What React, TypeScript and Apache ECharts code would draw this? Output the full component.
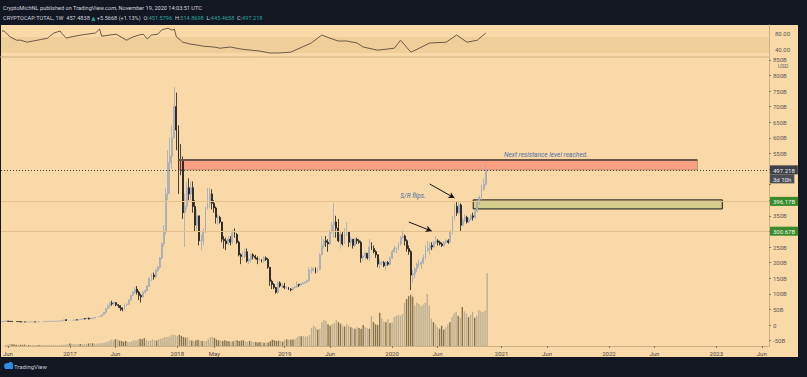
import React, { useEffect, useRef } from 'react';
import * as echarts from 'echarts';

// ---------- data ----------
const FIRST_WEEK_UTC = Date.UTC(2016, 4, 30); // Monday 2016-05-30
const AXIS_WEEKS = 370;
const FIRST_OPEN = 10.5;

// weekly closes (B USD) from 2016-05-30 to 2020-11-16
const closes = [
  11.0, 12.0, 12.8, 11.8, 11.5, 10.8, 11.2, 11.1, 10.8, 9.8, 9.9, 9.7, 9.7, 9.9, 10.0, 10.0, 9.9, 10.0, 10.2, 10.3, 10.4, 11.3, 11.4, 11.6, 11.9, 11.9, 12.3, 12.5, 13.0, 14.0, 16.5,
  14.8, 14.9, 15.5, 15.5, 16.5, 16.4, 17.0, 18.7, 20.5, 19.8, 22.0, 19.5, 21.5, 22.5, 24.5, 26.5, 28,
  33, 40, 52, 60, 70, 68, 72, 65, 62, 55, 50, 65, 66,
  80, 95, 105, 115, 105, 95, 90, 105, 110, 125, 150, 160, 155, 175, 185, 215, 260, 300, 420, 520, 540, 600,
  700, 625, 530, 525, 360, 380, 440, 420, 440, 380, 320, 350, 270, 270, 300, 375, 390, 420, 390, 375, 345, 345, 330, 275, 270, 260, 275, 265, 295, 290, 265, 225, 220, 220, 235, 205, 210, 225, 220, 215, 210, 210, 205, 215, 210, 185, 140, 130, 120, 105, 135, 125,
  125, 120, 120, 115, 113, 120, 122, 130, 128, 132, 135, 137, 142, 175, 175, 180, 170, 178, 225, 255, 270, 265, 260, 300, 320, 330, 310, 270, 290, 260, 300, 300, 265, 275, 255, 275, 270, 265, 215, 220, 230, 215, 250, 245, 235, 225, 195, 200, 200, 190, 200, 195,
  215, 235, 245, 245, 260, 280, 285, 270, 245, 235, 160, 165, 180, 195, 195, 200, 215, 240, 245, 255, 250, 265, 270, 265, 260, 255, 265, 270, 265,
  300, 345, 380, 360, 385, 320, 335, 345, 330, 340, 350, 345, 365, 395, 410, 435, 451.5796, 497.218,
];
const highs = [
  11.3, 12.3, 14.8, 13.2, 11.9, 11.8, 11.4, 11.6, 11.3, 10.8, 10.1, 9.9, 9.9, 10.3, 10.2, 10.1, 10.1, 10.1, 10.3, 10.5, 10.5, 11.6, 11.8, 11.9, 12.1, 12.1, 12.5, 12.6, 13.1, 14.4, 17.7,
  18.5, 15.5, 15.9, 15.8, 16.8, 16.9, 17.2, 19.0, 21.0, 21.5, 24.5, 23.0, 22.0, 23.0, 25.0, 27.5, 29,
  34, 42, 55, 66, 75, 78, 76, 73, 66, 63, 56, 67, 70,
  82, 98, 110, 122, 125, 110, 100, 108, 115, 128, 152, 165, 168, 180, 190, 218, 265, 320, 440, 560, 600, 640,
  763, 745, 640, 580, 540, 420, 460, 470, 460, 460, 400, 370, 350, 290, 310, 380, 440, 440, 435, 400, 380, 355, 350, 330, 285, 280, 285, 285, 305, 310, 295, 270, 230, 235, 245, 245, 215, 230, 230, 225, 220, 215, 210, 220, 220, 215, 185, 145, 135, 122, 140, 140,
  135, 135, 125, 122, 118, 122, 125, 140, 132, 135, 138, 140, 145, 185, 185, 185, 185, 182, 230, 285, 275, 285, 275, 305, 330, 391, 350, 340, 300, 300, 310, 330, 300, 285, 275, 280, 280, 275, 270, 225, 235, 230, 275, 265, 255, 240, 225, 210, 205, 205, 205, 205,
  220, 240, 255, 250, 265, 285, 305, 290, 275, 255, 240, 175, 185, 200, 210, 205, 225, 255, 270, 265, 265, 270, 285, 275, 270, 265, 270, 275, 275,
  305, 350, 390, 395, 395, 390, 345, 355, 350, 345, 355, 360, 370, 400, 415, 450, 470, 514.8698,
];
const lows = [
  10.2, 10.9, 11.8, 10.0, 10.9, 10.3, 10.6, 10.8, 10.3, 8.6, 9.6, 9.5, 9.5, 9.6, 9.8, 9.8, 9.8, 9.9, 9.9, 10.1, 10.2, 10.4, 11.0, 11.2, 11.5, 11.7, 11.8, 12.2, 12.4, 12.9, 14.0,
  13.0, 13.5, 14.6, 15.1, 15.4, 15.4, 16.2, 16.8, 18.5, 18.0, 19.5, 17.8, 19.0, 20.8, 22.5, 24.5, 26,
  27, 32, 39, 50, 55, 62, 63, 60, 55, 45, 44, 48, 60,
  65, 78, 92, 100, 98, 80, 72, 88, 100, 108, 122, 140, 145, 150, 170, 180, 210, 250, 290, 400, 420, 500,
  600, 560, 420, 480, 340, 250, 370, 400, 400, 360, 300, 300, 255, 240, 255, 295, 370, 375, 370, 360, 325, 320, 325, 265, 245, 240, 255, 255, 260, 280, 260, 220, 195, 210, 215, 200, 195, 200, 210, 210, 195, 205, 200, 200, 205, 180, 125, 115, 115, 100, 100, 120,
  118, 115, 115, 112, 108, 110, 118, 120, 122, 125, 130, 132, 135, 140, 165, 172, 165, 168, 175, 225, 245, 250, 235, 255, 295, 280, 280, 265, 245, 255, 260, 285, 250, 255, 245, 250, 260, 260, 200, 205, 210, 210, 205, 240, 230, 215, 185, 180, 190, 185, 175, 190,
  190, 212, 232, 230, 240, 255, 275, 255, 235, 225, 112, 135, 150, 170, 185, 180, 195, 210, 235, 225, 240, 245, 260, 255, 255, 250, 250, 260, 260,
  265, 290, 335, 350, 355, 300, 315, 330, 325, 325, 335, 335, 340, 360, 385, 400, 430, 445.4658,
];
// weekly volume (B USD)
const volumes = [
  18, 22, 30, 25, 20, 18, 17, 17, 16, 20, 15, 14, 14, 14, 13, 13, 13, 13, 13, 14, 14, 17, 17, 16, 16, 15, 16, 16, 17, 20, 25,
  35, 30, 25, 24, 25, 26, 25, 28, 30, 35, 40, 38, 32, 33, 36, 38, 42,
  50, 60, 70, 85, 80, 95, 90, 75, 70, 60, 70, 55, 55,
  65, 80, 75, 90, 100, 95, 110, 85, 70, 75, 90, 80, 75, 95, 100, 110, 120, 125,
  130, 150, 160, 150, 140, 155, 140, 125,
  115, 120, 85, 75, 70, 80, 85, 75, 70, 65, 70, 95, 120, 125, 110, 90, 80, 75, 70, 80, 70, 65, 60, 65, 75, 80, 70, 75, 80, 65, 60, 70, 60, 55, 55, 50, 55, 50, 45, 45, 50, 65, 85, 80, 70, 75, 70, 60,
  90, 95, 85, 85, 90, 95, 120, 140, 135, 140, 130, 135, 150, 250, 280, 260, 230, 240, 330, 360, 350, 300, 280, 300, 320, 360,
  330, 310, 280, 270, 300, 280, 260, 250, 240, 260, 250, 240, 290, 260, 250, 240, 415, 330, 300, 290, 460, 380, 340, 330, 370, 320,
  330, 400, 420, 430, 420, 440, 600, 650, 690, 710, 680, 560, 600, 580, 550, 570, 600, 720, 560,
  380, 330, 300, 260, 240, 280, 230, 260, 300, 330, 400, 450, 470, 420, 390, 540, 480, 450,
  400, 430, 470, 390, 420, 500, 480, 470, 490, 1010,
];
// RSI: week index -> value
const rsiWeekIdx = [0, 1, 4, 7, 9, 12, 15, 19, 22, 23, 25, 28, 29, 31, 33, 38, 41, 45, 47, 48, 52, 55, 60, 63, 66, 68, 70, 72, 75, 77, 80, 82, 83, 84, 86, 87, 91, 94, 97, 102, 105, 110, 115, 120, 124, 129, 133, 139, 149, 154, 158, 162, 166, 171, 174, 181, 189, 192, 197, 201, 206, 214, 219, 224, 229, 233];
const rsiValues = [85, 85, 70, 62, 62, 57, 60, 64, 67, 72, 80, 85, 78, 67, 70, 75, 77, 80, 90, 72, 75, 77, 62, 70, 75, 77, 65, 75, 77, 88, 92, 87, 90, 70, 62, 57, 52, 50, 47, 45, 42, 45, 40, 37, 35, 30, 30, 32, 55, 75, 67, 60, 60, 55, 45, 37, 42, 62, 32, 42, 55, 57, 75, 57, 62, 80];

const tickWeeks = ['2016-06-06', '2017-01-02', '2017-06-05', '2018-01-01', '2018-05-07', '2018-12-31', '2019-06-03', '2019-12-30', '2020-06-01', '2021-01-04', '2021-06-07', '2022-01-03', '2022-06-06', '2023-01-02', '2023-06-05'];
const tickTexts = ['Jun', '2017', 'Jun', '2018', 'May', '2019', 'Jun', '2020', 'Jun', '2021', 'Jun', '2022', 'Jun', '2023', 'Jun'];
// axis levels that the price-line labels cover in the reference
const coveredLevels = [300, 400, 450, 500];

const LAST_PRICE = 497.218;
const srLevels = [396.17, 300.67];
// zones / annotations, in week indices and B USD
const resistanceZone = { from: 85, to: 335, low: 497.218, high: 529 };
const supportZone = { from: 227, to: 347, low: 372, high: 401 };
const arrows = [
  { from: [196, 330], to: [207, 301] },
  { from: [206, 452], to: [218, 407] },
];
const notes = [
  { at: [262, 545], text: 'Next resistance level reached.' },
  { at: [198, 413], text: 'S/R flips.' },
];

// ---------- helpers ----------
const weeks: string[] = [];
for (let i = 0; i < AXIS_WEEKS; i++) {
  weeks.push(new Date(FIRST_WEEK_UTC + i * 7 * 86400000).toISOString().slice(0, 10));
}
const tickMap: Record<string, string> = {};
tickWeeks.forEach((w, i) => (tickMap[w] = tickTexts[i]));

const FONT = 'Roboto, "Noto Sans", "DejaVu Sans", sans-serif';
const BG = '#F9D9A7';
const UP = '#a2abbb';
const DOWN = '#1c1c1c';

export default function App() {
  const ref = useRef<HTMLDivElement>(null);
  useEffect(() => {
    if (!ref.current) return;
    const chart = echarts.init(ref.current, undefined, { renderer: 'svg' });

    const opens = closes.map((c, i) => (i === 0 ? FIRST_OPEN : closes[i - 1]));
    const candles = closes.map((c, i) => [opens[i], c, lows[i], highs[i]]);
    const vol = volumes.map((v, i) => ({
      value: v,
      itemStyle: { color: closes[i] >= opens[i] ? '#bcae93' : '#86744f' },
    }));
    const rsi = rsiWeekIdx.map((w, i) => [w, rsiValues[i]]);
    const isTick = (_: number, v: string) => tickMap[v] !== undefined;
    const pt = (p: number[]) => [weeks[p[0]], p[1]];

    const option: any = {
      animation: false,
      backgroundColor: '#131722',
      textStyle: { fontFamily: FONT },
      graphic: [
        { type: 'rect', z: -10, shape: { x: 1, y: 25, width: 797, height: 332 }, style: { fill: BG } },
        {
          type: 'text', x: 3, y: 8,
          style: { text: 'CryptoMichNL published on TradingView.com, November 19, 2020 14:03:51 UTC', fill: '#d1d4dc', fontSize: 5.6, fontFamily: FONT, verticalAlign: 'middle' },
        },
        {
          type: 'text', x: 3, y: 18,
          style: {
            text: '{w|CRYPTOCAP:TOTAL, 1W  457.4838 }{g|▲}{w| +5.5668 (+1.13%)  O:}{g|451.5796}{w|  H:}{g|514.8698}{w|  L:}{g|445.4658}{w|  C:}{g|497.218}',
            verticalAlign: 'middle',
            rich: {
              w: { fill: '#d1d4dc', fontSize: 5.6, fontFamily: FONT },
              g: { fill: '#26a69a', fontSize: 5.6, fontFamily: FONT },
            },
          },
        },
        { type: 'circle', shape: { cx: 7, cy: 366, r: 3 }, style: { fill: '#2f8fe8' } },
        { type: 'circle', shape: { cx: 10.5, cy: 364.5, r: 2.5 }, style: { fill: '#2f8fe8' } },
        { type: 'rect', shape: { x: 5, y: 366, width: 8, height: 3 }, style: { fill: '#2f8fe8' } },
        { type: 'text', x: 14, y: 366.5, style: { text: 'TradingView', fill: '#c9ccd4', fontSize: 6, fontFamily: FONT, verticalAlign: 'middle' } },
        { type: 'text', x: 778, y: 65.5, style: { text: 'USD', fill: '#6a6a6a', fontSize: 5.5, fontFamily: FONT, verticalAlign: 'middle' } },
      ],
      grid: [
        { left: 1, width: 768, top: 25, height: 32 },
        { left: 1, width: 768, top: 59.8, height: 280.8 },
        { left: 1, width: 768, top: 57, height: 289 },
      ],
      xAxis: [
        { gridIndex: 0, type: 'category', data: weeks, axisLine: { lineStyle: { color: '#dcbf8e', width: 1.5 } }, axisTick: { show: false }, axisLabel: { show: false }, splitLine: { show: false } },
        { gridIndex: 1, type: 'category', data: weeks, show: false },
        {
          gridIndex: 2, type: 'category', data: weeks,
          axisLine: { lineStyle: { color: '#cbb083' } },
          axisTick: { show: true, interval: isTick, alignWithLabel: true, length: 2, lineStyle: { color: '#8b7b62' } },
          axisLabel: { interval: isTick, formatter: (v: string) => tickMap[v] || '', fontSize: 6, color: '#4e4a44', margin: 4, fontFamily: FONT },
          splitLine: { show: false },
        },
      ],
      yAxis: [
        {
          gridIndex: 0, type: 'value', position: 'right', min: 20, max: 100, interval: 20,
          axisLine: { show: true, lineStyle: { color: '#cbb083' } }, axisTick: { show: false }, splitLine: { show: false },
          axisLabel: { formatter: (v: number) => (v === 40 || v === 80 ? v.toFixed(2) : ''), fontSize: 6, color: '#5d5a55', margin: 6, fontFamily: FONT },
        },
        {
          gridIndex: 1, type: 'value', position: 'right', min: -50, max: 850, interval: 50,
          axisLine: { show: false }, axisTick: { show: true, length: 2, lineStyle: { color: '#8b7b62' } }, splitLine: { show: false },
          axisLabel: {
            formatter: (v: number) => (coveredLevels.includes(v) ? '' : v === 0 ? '0' : v + 'B'),
            fontSize: 6, color: '#5d5a55', margin: 4, fontFamily: FONT,
          },
        },
        {
          gridIndex: 2, type: 'value', position: 'right', min: 0, max: 4000,
          axisLine: { show: true, lineStyle: { color: '#cbb083' } }, axisTick: { show: false }, axisLabel: { show: false }, splitLine: { show: false },
        },
      ],
      series: [
        {
          type: 'line', xAxisIndex: 0, yAxisIndex: 0, data: rsi, showSymbol: false, z: 3,
          lineStyle: { color: '#6b5a46', width: 1 },
          markArea: { silent: true, itemStyle: { color: 'rgba(170,120,50,0.11)' }, data: [[{ yAxis: 30 }, { yAxis: 70 }]] },
        },
        {
          type: 'bar', xAxisIndex: 2, yAxisIndex: 2, data: vol, barWidth: 1.4, z: 1,
        },
        {
          type: 'candlestick', xAxisIndex: 1, yAxisIndex: 1, data: candles, barWidth: 1.4, z: 3,
          itemStyle: { color: UP, color0: DOWN, borderColor: UP, borderColor0: DOWN, borderWidth: 0.8 },
          markArea: {
            silent: true,
            data: [
              [
                { xAxis: weeks[resistanceZone.from], yAxis: resistanceZone.low, itemStyle: { color: '#F9A083', borderColor: '#9b7258', borderWidth: 0.6 } },
                { xAxis: weeks[resistanceZone.to], yAxis: resistanceZone.high },
              ],
              [
                { xAxis: weeks[supportZone.from], yAxis: supportZone.low, itemStyle: { color: '#D4CD8D', borderColor: '#151515', borderWidth: 1 } },
                { xAxis: weeks[supportZone.to], yAxis: supportZone.high },
              ],
            ],
          },
          markLine: {
            silent: true, symbol: ['none', 'none'], animation: false,
            data: [
              ...srLevels.map((lv) => ({
                yAxis: lv,
                lineStyle: { color: '#e3c08c', width: 1, type: 'solid' },
                label: { show: true, position: 'end', distance: 1, formatter: lv.toFixed(2) + 'B', backgroundColor: '#3a8a2c', color: '#eef6e6', fontSize: 6, padding: [2, 3, 1, 3], fontFamily: FONT },
              })),
              {
                yAxis: LAST_PRICE,
                lineStyle: { color: '#4a4038', width: 1, type: [1, 2] },
                label: {
                  show: true, position: 'end', distance: 1, offset: [0, 4.5],
                  formatter: '{a|497.218}\n{b|3d 10h}',
                  rich: {
                    a: { backgroundColor: '#3d4049', color: '#f0f0f0', fontSize: 6, padding: [2, 3, 1, 3], lineHeight: 9, fontFamily: FONT },
                    b: { backgroundColor: '#4a4d55', color: '#f0f0f0', fontSize: 6, padding: [2, 3, 1, 3], lineHeight: 9, fontFamily: FONT },
                  },
                },
              },
              [
                { coord: pt([resistanceZone.from, resistanceZone.high]), lineStyle: { color: '#6e5646', width: 2, type: 'solid' }, label: { show: false } },
                { coord: pt([resistanceZone.to, resistanceZone.high]) },
              ],
              ...arrows.map((a) => [
                { coord: pt(a.from), symbol: 'none', lineStyle: { color: '#151515', width: 1, type: 'solid' }, label: { show: false } },
                { coord: pt(a.to), symbol: 'arrow', symbolSize: [5, 6] },
              ]),
            ],
          },
          markPoint: {
            silent: true, symbol: 'circle', symbolSize: 1, itemStyle: { color: 'rgba(0,0,0,0)' },
            label: { show: true, position: 'inside', color: '#4d6ea8', fontSize: 6.5, fontStyle: 'italic', fontFamily: FONT },
            data: notes.map((n) => ({ coord: pt(n.at), label: { formatter: n.text } })),
          },
        },
      ],
    };
    chart.setOption(option);
    return () => chart.dispose();
  }, []);
  return <div ref={ref} style={{ width: 807, height: 377, position: 'absolute', left: 0, top: 0 }} />;
}
